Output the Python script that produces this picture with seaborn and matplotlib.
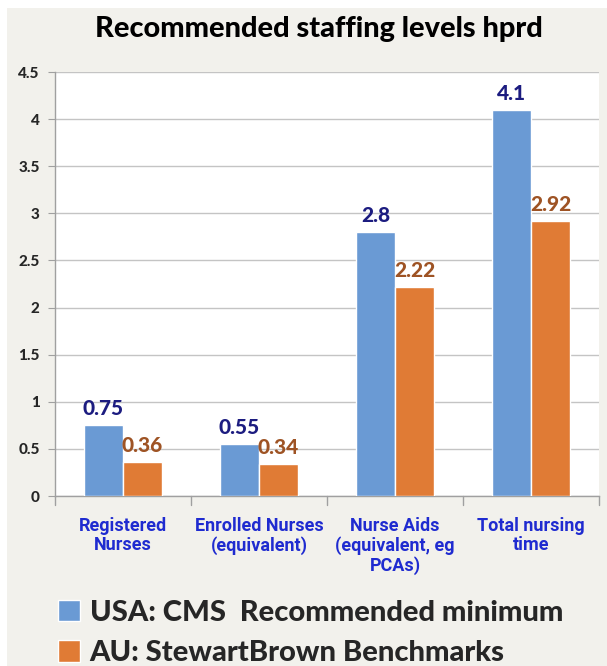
import numpy as np
import pandas as pd
import seaborn as sns
import matplotlib.pyplot as plt
from matplotlib.patches import Rectangle

# -------------------- Data --------------------

categories = ['Registered\nNurses', 'Enrolled Nurses\n(equivalent)',
              'Nurse Aids\n(equivalent, eg\nPCAs)', 'Total nursing\ntime']
series_names = ['USA: CMS  Recommended minimum', 'AU: StewartBrown Benchmarks']
usa_values = [0.75, 0.55, 2.8, 4.1]
au_values = [0.36, 0.34, 2.22, 2.92]
usa_labels = ['0.75', '0.55', '2.8', '4.1']
au_labels = ['0.36', '0.34', '2.22', '2.92']
y_ticks = [0, 0.5, 1, 1.5, 2, 2.5, 3, 3.5, 4, 4.5]
y_tick_labels = ['0', '0.5', '1', '1.5', '2', '2.5', '3', '3.5', '4', '4.5']

bar_colors = ['#6a9ad4', '#e07b35']
label_colors = ['#1c1c80', '#9e5324']
bg_color = '#f2f1ec'
main_font = ['Lato', 'DejaVu Sans']
narrow_font = ['Liberation Sans Narrow', 'Roboto', 'DejaVu Sans']


def build_frame():
    df = pd.DataFrame({
        'category': categories * 2,
        'series': [series_names[0]] * 4 + [series_names[1]] * 4,
        'value': usa_values + au_values,
    })
    return df


def main():
    sns.set_style('white')
    plt.rcParams['font.family'] = main_font

    df = build_frame()

    fig = plt.figure(figsize=(6.07, 6.66), dpi=100)
    fig.patch.set_facecolor('white')
    fig.patches.append(Rectangle((7 / 607, 0), 1, 1 - 8 / 666, transform=fig.transFigure,
                                 facecolor=bg_color, edgecolor='none', zorder=-10))

    ax = fig.add_axes([55 / 607, 1 - 496 / 666, 544 / 607, 424 / 666])
    ax.set_facecolor('white')

    sns.barplot(data=df, x='category', y='value', hue='series', order=categories,
                hue_order=series_names, palette=bar_colors, width=0.575, gap=0,
                saturation=1, ax=ax, legend=False, zorder=3)

    # data labels
    label_sets = [usa_labels, au_labels]
    for cont, labels, col in zip(ax.containers, label_sets, label_colors):
        ax.bar_label(cont, labels=labels, color=col, fontsize=15, fontweight='black',
                     padding=5, family=main_font)

    ax.set_ylim(0, 4.5)
    ax.set_xlim(-0.5, 3.5)
    ax.set_yticks(y_ticks)
    ax.set_yticklabels(y_tick_labels, fontsize=11, fontweight='black')
    ax.yaxis.grid(True, color='#c4c4c4', linewidth=1, zorder=0)
    ax.set_axisbelow(True)

    ax.set_xticks(range(len(categories)))
    ax.set_xticklabels(categories, fontsize=13, fontweight='bold', color='#1f2bd0',
                       family=narrow_font, linespacing=1.1)
    ax.tick_params(axis='x', length=0, pad=15)
    ax.tick_params(axis='y', length=5, color='#a0a0a0', pad=6, left=True)

    # category boundary ticks, Excel style
    for b in [-0.5, 0.5, 1.5, 2.5, 3.5]:
        ax.plot([b, b], [0, -0.1], color='#a0a0a0', lw=1, clip_on=False, zorder=4)

    for side in ['top', 'right']:
        ax.spines[side].set_visible(False)
    for side in ['left', 'bottom']:
        ax.spines[side].set_color('#a0a0a0')
        ax.spines[side].set_linewidth(1)

    ax.set_xlabel('')
    ax.set_ylabel('')

    fig.text(0.526, 1 - 29 / 666, 'Recommended staffing levels hprd', ha='center', va='center',
             fontsize=20.8, fontweight='black', color='black')

    # legend
    handles = [Rectangle((0, 0), 1, 1, facecolor=c) for c in bar_colors]
    fig.legend(handles, series_names, loc='upper left', bbox_to_anchor=(46 / 607, 1 - 588 / 666),
               frameon=False, prop={'weight': 'black', 'size': 21, 'family': main_font},
               handlelength=0.75, handleheight=0.75, handletextpad=0.35, labelspacing=0.5,
               borderaxespad=0)

    fig.savefig('out.png', dpi=100, facecolor=fig.get_facecolor())


if __name__ == '__main__':
    main()
